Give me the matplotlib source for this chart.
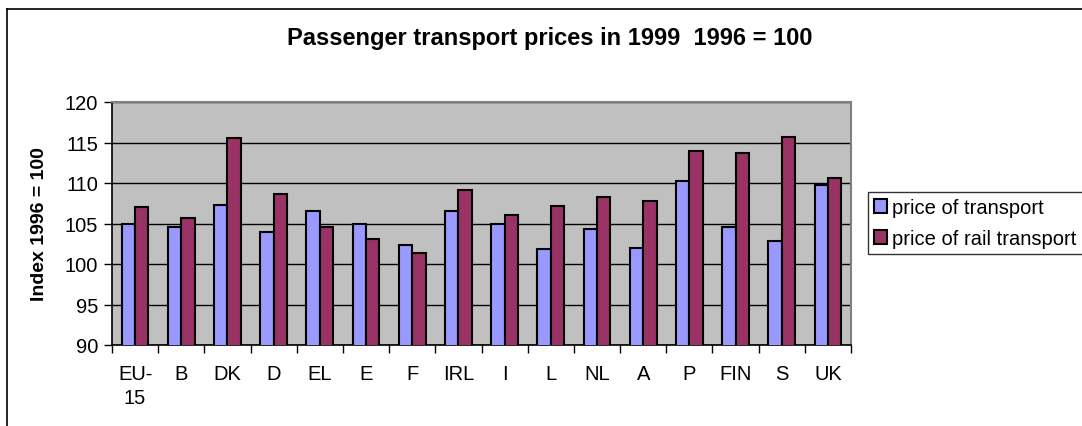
import matplotlib
matplotlib.use("Agg")
import matplotlib.pyplot as plt
from matplotlib.lines import Line2D
import numpy as np

categories = ["EU-\n15", "B", "DK", "D", "EL", "E", "F", "IRL", "I", "L", "NL", "A", "P", "FIN", "S", "UK"]
price_transport = [104.9, 104.6, 107.3, 104.0, 106.6, 104.9, 102.3, 106.5, 105.0, 101.8, 104.3, 102.0, 110.3, 104.6, 102.9, 109.7]
price_rail = [107.0, 105.7, 115.5, 108.6, 104.6, 103.1, 101.4, 109.1, 106.1, 107.1, 108.3, 107.8, 114.0, 113.7, 115.7, 110.6]
series_names = ["price of transport", "price of rail transport"]
yticks = [90, 95, 100, 105, 110, 115, 120]

plt.rcParams['font.family'] = ['Liberation Sans', 'DejaVu Sans']

W, H = 1082, 427
fig = plt.figure(figsize=(W / 100, H / 100), dpi=100)
ax = fig.add_axes([112 / W, 1 - 346 / H, (851 - 112) / W, (346 - 103) / H])

x = np.arange(len(categories))
bw = 0.29
ax.set_facecolor('#C0C0C0')
ax.bar(x - bw / 2, price_transport, width=bw, color='#9999FF', edgecolor='black', linewidth=1.5, label=series_names[0], zorder=3)
ax.bar(x + bw / 2, price_rail, width=bw, color='#993366', edgecolor='black', linewidth=1.5, label=series_names[1], zorder=3)

ax.set_ylim(90, 120)
ax.set_xlim(-0.5, len(categories) - 0.5)
ax.set_yticks(yticks)
ax.set_yticklabels([str(v) for v in yticks], fontsize=14.5)
ax.yaxis.grid(True, color='black', linewidth=1, zorder=0)
ax.set_axisbelow(True)

ax.set_xticks(x)
ax.set_xticklabels(categories, fontsize=14.5, va='top', linespacing=1.3)
ax.tick_params(axis='x', length=0, pad=14)
ax.set_xticks(np.arange(-0.5, len(categories)), minor=True)
ax.tick_params(axis='x', which='minor', length=6, width=1, direction='out')
ax.tick_params(axis='y', length=6, width=1, direction='out', pad=4)

for s in ['left', 'bottom']:
    ax.spines[s].set_color('black')
    ax.spines[s].set_linewidth(1.2)
for s in ['top', 'right']:
    ax.spines[s].set_color('#808080')
    ax.spines[s].set_linewidth(1.5)

ax.set_ylabel("Index 1996 = 100", fontsize=14, fontweight='bold', labelpad=12)

fig.text(550 / W, 1 - 39 / H, "Passenger transport prices in 1999  1996 = 100",
         ha='center', va='center', fontsize=17, fontweight='bold')

leg = fig.legend(loc='upper left', bbox_to_anchor=(868 / W, 1 - 193 / H), bbox_transform=fig.transFigure,
                 fontsize=14.5, frameon=True, fancybox=False, borderaxespad=0,
                 handlelength=0.65, handleheight=0.65, handletextpad=0.25, borderpad=0.3,
                 labelspacing=0.6)
leg.get_frame().set_edgecolor('black')
leg.get_frame().set_linewidth(1)

# chart area border (left and top visible)
fig.add_artist(Line2D([7 / W, 7 / W], [0, 1 - 10 / H], transform=fig.transFigure, color='black', linewidth=1.2))
fig.add_artist(Line2D([7 / W, 1], [1 - 10 / H, 1 - 10 / H], transform=fig.transFigure, color='black', linewidth=1.2))

fig.savefig("out.png", dpi=100)
